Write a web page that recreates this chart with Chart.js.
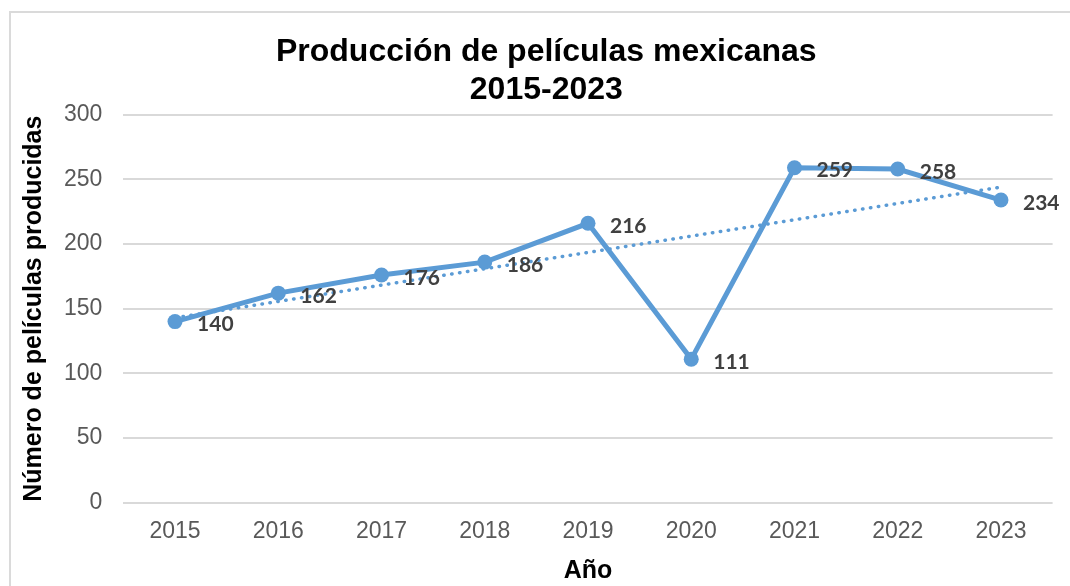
<!DOCTYPE html>
<html>
<head>
<meta charset="utf-8">
<script src="https://cdn.jsdelivr.net/npm/chart.js@4.4.1/dist/chart.umd.min.js"></script>
<style>
  html, body { margin: 0; padding: 0; background: #fff; overflow: hidden; }
  #frame { position: absolute; left: 9px; top: 11px; width: 1100px; height: 600px; border: 2px solid #dadada; }
  #chart { position: absolute; left: 0; top: 0; }
</style>
</head>
<body>
<div id="frame"></div>
<canvas id="chart" width="1070" height="586"></canvas>
<script>
const years = ["2015", "2016", "2017", "2018", "2019", "2020", "2021", "2022", "2023"];
const films = [140, 162, 176, 186, 216, 111, 259, 258, 234];
// tendencia lineal: solo los extremos
const trend = [143, null, null, null, null, null, null, null, 244];
const yTicks = [0, 50, 100, 150, 200, 250, 300];

const blue = "#5b9bd5";

// etiquetas de datos a la derecha de cada punto
const valueLabels = {
  id: "valueLabels",
  afterDatasetsDraw(chart) {
    const ctx = chart.ctx;
    const meta = chart.getDatasetMeta(1);
    ctx.save();
    ctx.font = "bold 21px Lato, 'Liberation Sans', sans-serif";
    ctx.fillStyle = "#404040";
    ctx.textAlign = "left";
    ctx.textBaseline = "middle";
    meta.data.forEach((pt, i) => {
      ctx.fillText(films[i], pt.x + 22, pt.y + 3);
    });
    ctx.restore();
  }
};

new Chart(document.getElementById("chart"), {
  type: "line",
  data: {
    labels: years,
    datasets: [{
      label: "Tendencia",
      data: trend,
      spanGaps: true,
      borderColor: blue,
      borderWidth: 3.5,
      borderDash: [0.5, 7.5],
      borderCapStyle: "round",
      pointRadius: 0,
      order: 0
    }, {
      label: "Películas",
      data: films,
      borderColor: blue,
      backgroundColor: blue,
      borderWidth: 5,
      pointRadius: 7.5,
      pointBorderWidth: 0,
      tension: 0,
      order: 1
    }]
  },
  options: {
    responsive: false,
    animation: false,
    devicePixelRatio: 1,
    layout: { padding: { left: 40, right: 17.4, top: 0, bottom: 0 } },
    plugins: {
      legend: { display: false },
      tooltip: { enabled: false },
      title: {
        display: true,
        text: ["Producción de películas mexicanas", "2015-2023"],
        color: "#000",
        font: { family: "'Liberation Sans', Arial, sans-serif", size: 32, weight: "bold", lineHeight: 1.19 },
        padding: { top: 33, bottom: 5.5 }
      }
    },
    scales: {
      x: {
        offset: true,
        grid: { display: false, drawTicks: false },
        border: { display: false },
        ticks: {
          color: "#595959",
          padding: 15,
          font: { family: "'Liberation Sans', Arial, sans-serif", size: 23 }
        },
        title: {
          display: true,
          text: "Año",
          color: "#000",
          font: { family: "'Liberation Sans', Arial, sans-serif", size: 25, weight: "bold", lineHeight: 1.2 },
          padding: { top: 0, bottom: 0 }
        },
        afterFit(scale) { scale.height = 83.3; }
      },
      y: {
        min: 0,
        max: 300,
        afterBuildTicks(scale) { scale.ticks = yTicks.map(v => ({ value: v })); },
        grid: { color: "#d9d9d9", lineWidth: 2, drawTicks: false },
        border: { display: false },
        ticks: {
          color: "#595959",
          padding: 21,
          font: { family: "'Liberation Sans', Arial, sans-serif", size: 23 }
        },
        title: {
          display: true,
          text: "Número de películas producidas",
          color: "#000",
          font: { family: "'Liberation Sans', Arial, sans-serif", size: 25, weight: "bold", lineHeight: 1.2 },
          padding: { top: -21, bottom: 0 }
        },
        afterFit(scale) { scale.width = 83.4; }
      }
    }
  },
  plugins: [valueLabels]
});
</script>
</body>
</html>
